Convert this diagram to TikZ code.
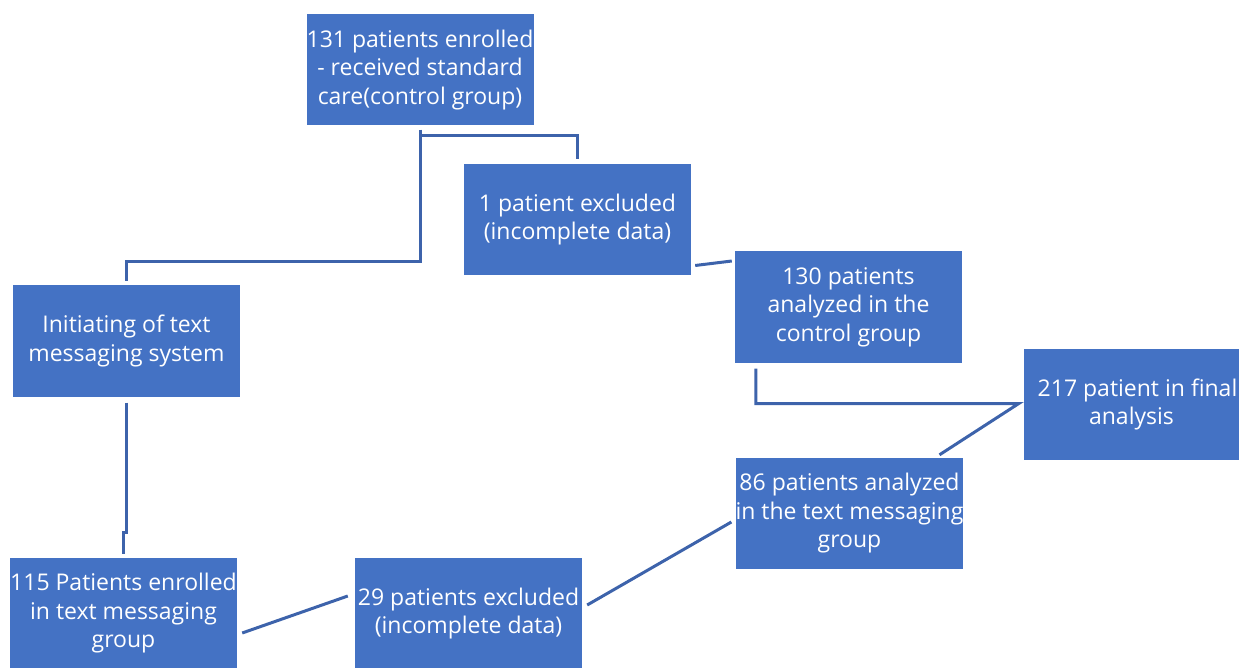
\documentclass[tikz,border=0pt]{standalone}
\usepackage{fontspec}
\setmainfont{Open Sans}
\definecolor{boxblue}{HTML}{4472C4}
\definecolor{lineblue}{HTML}{3D63AB}
\begin{document}
\begin{tikzpicture}[x=1pt, y=-1pt]
			\tikzstyle{Box} = [rectangle, fill=boxblue, text=white, minimum width=227, minimum height=111, inner sep=0pt, align=center, font=\fontsize{23}{28.5}\selectfont]
			\tikzstyle{Link} = [draw=lineblue, line width=3pt]
			\useasboundingbox (0,0) rectangle (1239,668);
			\node (A) at (420,70) [Box] {131 patients enrolled\\- received standard\\care(control group)};
			\node (B) at (577.5,219.5) [Box] {1 patient excluded\\(incomplete data)};
			\node (C) at (848.5,307) [Box] {130 patients\\analyzed in the\\control group};
			\node (D) at (1131.5,404.5) [Box, minimum width=215] {\hspace*{12pt}217 patient in final\\analysis};
			\node (E) at (849.5,513.5) [Box] {86 patients analyzed\\in the text messaging\\group};
			\node (F) at (468.5,613.5) [Box] {29 patients excluded\\(incomplete data)};
			\node (G) at (123.5,613.5) [Box] {115 Patients enrolled\\in text messaging\\group};
			\node (H) at (126.5,341) [Box] {Initiating of text\\messaging system};
			\draw [Link] ([yshift=-4pt]A.south) -- ++(0,132) -| ([yshift=4pt]H.north);
			\draw [Link] ([yshift=-10pt]A.south) -| ([yshift=5pt]B.north);
			\draw [Link] ([xshift=4pt, yshift=-46pt]B.east) -- ([xshift=-3pt, yshift=46pt]C.west);
			\draw [Link] ([xshift=21pt, yshift=-6pt]C.south west) |- ([xshift=-5pt, yshift=1pt]D.west) -- ([xshift=90pt, yshift=3pt]E.north);
			\draw [Link] ([yshift=-6pt]H.south) -- ++(0,130) -| ([yshift=4pt]G.north);
			\draw [Link] ([xshift=5pt, yshift=-19.5pt]G.east) -- ([xshift=-7pt, yshift=17.5pt]F.west);
			\draw [Link] ([xshift=5pt, yshift=8.5pt]F.east) -- ([xshift=-4pt, yshift=-8.5pt]E.west);
		\end{tikzpicture}
\end{document}
